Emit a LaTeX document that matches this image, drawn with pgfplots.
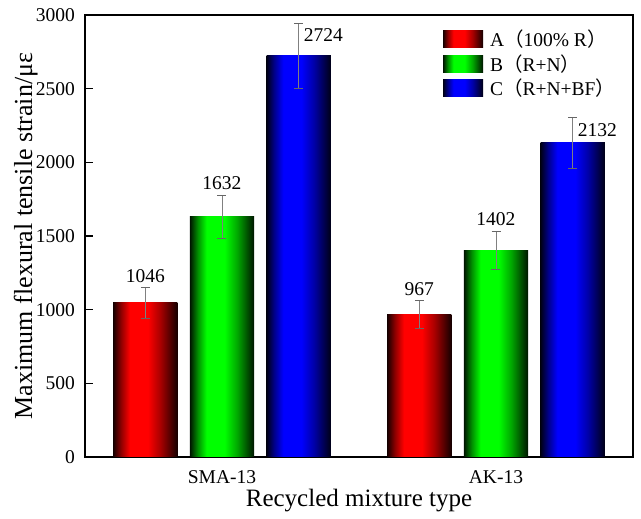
\documentclass[border=0pt]{standalone}
\usepackage{pgfplots}
\pgfplotsset{compat=1.18}
\usepackage{fontspec}
\setmainfont{Liberation Serif}
\newfontfamily\cjk{Noto Sans CJK SC}
\newcommand\tickfont{\fontsize{19.5pt}{23pt}\selectfont}
\newcommand\labfont{\fontsize{25pt}{29pt}\selectfont}
\newcommand\ylabfont{\fontsize{26pt}{30pt}\selectfont}

\pgfdeclarehorizontalshading{redbar}{100bp}{color(0bp)=(black); color(25bp)=(black!92!red); color(31bp)=(black!45!red); color(38bp)=(red); color(52bp)=(red); color(62bp)=(black!35!red); color(75bp)=(black!92!red); color(100bp)=(black)}
\pgfdeclarehorizontalshading{greenbar}{100bp}{color(0bp)=(black); color(25bp)=(black!92!green); color(31bp)=(black!45!green); color(38bp)=(green); color(52bp)=(green); color(62bp)=(black!35!green); color(75bp)=(black!92!green); color(100bp)=(black)}
\pgfdeclarehorizontalshading{bluebar}{100bp}{color(0bp)=(black); color(25bp)=(black!92!blue); color(31bp)=(black!45!blue); color(38bp)=(blue); color(52bp)=(blue); color(62bp)=(black!35!blue); color(75bp)=(black!92!blue); color(100bp)=(black)}

\pgfplotsset{
  swatch/.style={legend image code/.code={\path[##1] (0pt,-8.5pt) rectangle (40pt,8.5pt);}},
  mybar/.style={ybar, bar width=0.2345, bar shift=0pt, draw=none, swatch,
    error bars/y dir=both, error bars/y explicit,
    error bars/error bar style={line width=0.8pt, black!50},
    error bars/error mark options={rotate=90, mark size=4.5pt, line width=0.8pt, black!60}},
  vallab/.style={forget plot, only marks, mark=none,
    point meta=explicit symbolic, nodes near coords={\pgfplotspointmeta},
    every node near coord/.append style={font=\tickfont, inner sep=0pt, black}},
}

\begin{document}
\begin{tikzpicture}
\useasboundingbox (0,0) rectangle (641pt,519pt);
\begin{axis}[
  at={(85pt,62pt)}, anchor=south west,
  scale only axis, width=548pt, height=442pt,
  xmin=-0.5, xmax=1.5, ymin=0, ymax=3000,
  xtick={0,1}, xticklabels={SMA-13,AK-13},
  ytick={0,500,...,3000},
  tick align=inside, xtick pos=bottom, ytick pos=left,
  major tick length=8pt,
  axis line style={line width=1.3pt},
  every tick/.style={black, line width=1.1pt},
  tick label style={font=\tickfont},
  /pgf/number format/assume math mode=true,
  /pgf/number format/1000 sep={},
  yticklabel style={inner sep=0pt, xshift=-10pt},
  xticklabel style={inner sep=0pt, yshift=-13pt},
  xlabel={Recycled mixture type},
  ylabel={Maximum flexural tensile strain/με},
  xlabel style={font=\labfont, at={(axis description cs:0.5,0)}, anchor=base, yshift=-50pt},
  ylabel style={font=\ylabfont, at={(axis description cs:-0.0967,0.5)}, anchor=base},
  legend style={draw=none, fill=none, at={(0.653,0.966)}, anchor=north west,
    font=\tickfont, inner sep=0pt, row sep=6pt,
    nodes={inner sep=0pt},
    /tikz/every odd column/.style={column sep=7pt}},
  legend cell align=left,
]
\addplot[mybar, shading=redbar] coordinates {(-0.28,1046) +- (0,105)};
\addplot[mybar, shading=greenbar] coordinates {(0,1632) +- (0,145)};
\addplot[mybar, shading=bluebar] coordinates {(0.28,2724) +- (0,220)};
\legend{A{\cjk （}100\% R{\cjk ）}, B{\cjk （}R+N{\cjk ）}, C{\cjk （}R+N+BF{\cjk ）}}
\addplot[mybar, shading=redbar, forget plot] coordinates {(0.72,967) +- (0,95)};
\addplot[mybar, shading=greenbar, forget plot] coordinates {(1,1402) +- (0,130)};
\addplot[mybar, shading=bluebar, forget plot] coordinates {(1.28,2132) +- (0,170)};
\addplot[vallab, every node near coord/.append style={anchor=south, yshift=5pt}]
  coordinates {(-0.28,1151)[1046] (0,1777)[1632] (0.72,1062)[967] (1,1532)[1402]};
\addplot[vallab, every node near coord/.append style={anchor=west, xshift=5pt}]
  coordinates {(0.28,2864)[2724] (1.28,2220)[2132]};
\end{axis}
\end{tikzpicture}
\end{document}
